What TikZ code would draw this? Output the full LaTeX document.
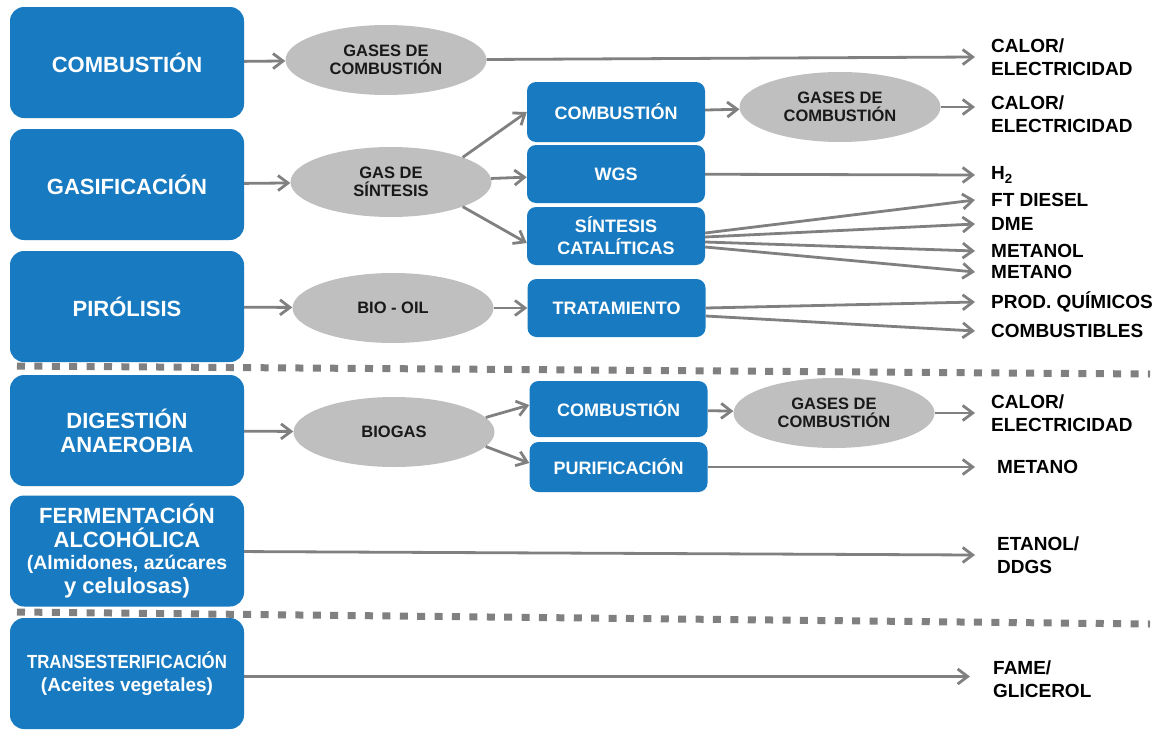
\documentclass[tikz,border=0pt]{standalone}
\usepackage{fontspec}
\setmainfont{Liberation Sans}
\usetikzlibrary{shapes.geometric,arrows.meta}
\definecolor{procblue}{RGB}{24,123,193}
\definecolor{gasgray}{RGB}{191,191,191}
\definecolor{flowgray}{RGB}{128,128,128}

\begin{document}
\begin{tikzpicture}[x=1pt,y=1pt,>={Straight Barb[length=10pt,width=15pt]},
  proc/.style={rectangle,rounded corners=14pt,fill=procblue,text=white,minimum width=234pt,minimum height=111pt,inner sep=2pt,align=center,font=\bfseries\fontsize{22}{24}\selectfont},
  stage/.style={rectangle,rounded corners=9pt,fill=procblue,text=white,minimum width=178pt,minimum height=58pt,inner sep=2pt,align=center,font=\bfseries\fontsize{18}{22}\selectfont},
  gas/.style={ellipse,fill=gasgray,text=black!90,minimum width=201pt,minimum height=70pt,inner sep=0pt,align=center,font=\bfseries\fontsize{16.5}{18.5}\selectfont},
  prod/.style={anchor=west,inner xsep=16pt,inner ysep=0pt,align=left,font=\bfseries\fontsize{19}{23}\selectfont},
  every edge/.style={draw=flowgray,line width=2.8pt},
  divider/.style={draw=flowgray,line width=7pt,dash pattern=on 8pt off 9.4pt}]
  \useasboundingbox (0pt,0pt) rectangle (1159pt,-731pt);
  \draw (127.0pt, -62.5pt)node[proc](comb1){COMBUSTIÓN};
  \draw (127.0pt, -184.5pt)node[proc](gasif){GASIFICACIÓN};
  \draw (127.0pt, -306.5pt)node[proc](piro){PIRÓLISIS};
  \draw (127.0pt, -430.5pt)node[proc](diges){DIGESTIÓN\\ANAEROBIA};
  \draw (127.0pt, -551.0pt)node[proc](ferm){FERMENTACIÓN\\ALCOHÓLICA\\[-2pt]\fontsize{19.5}{21.5}\selectfont(Almidones, azúcares\\y celulosas)};
  \draw (127.0pt, -673.5pt)node[proc,font=\bfseries\fontsize{19}{23}\selectfont](trans){\scalebox{0.885}[1]{TRANSESTERIFICACIÓN}\\(Aceites vegetales)};
  \draw (386.0pt, -60.0pt)node[gas](gc1){GASES DE\\COMBUSTIÓN};
  \draw (391.0pt, -182.0pt)node[gas](syn){GAS DE\\SÍNTESIS};
  \draw (393.0pt, -308.0pt)node[gas](oil){BIO - OIL};
  \draw (394.0pt, -432.0pt)node[gas](bio){BIOGAS};
  \draw (840.0pt, -107.0pt)node[gas](gc2){GASES DE\\COMBUSTIÓN};
  \draw (834.0pt, -413.0pt)node[gas](gc3){GASES DE\\COMBUSTIÓN};
  \draw (616.0pt, -112.0pt)node[stage,minimum height=60pt](comb2){COMBUSTIÓN};
  \draw (616.0pt, -174.0pt)node[stage](wgs){WGS};
  \draw (616.0pt, -236.0pt)node[stage](sint){SÍNTESIS\\CATALÍTICAS};
  \draw (616.5pt, -308.0pt)node[stage](trat){TRATAMIENTO};
  \draw (618.5pt, -409.0pt)node[stage,minimum height=56pt](comb3){COMBUSTIÓN};
  \draw (618.5pt, -467.0pt)node[stage,minimum height=50pt](puri){PURIFICACIÓN};
  \draw (975.0pt, -57.0pt)node[prod](out1){CALOR/\\ELECTRICIDAD};
  \draw (975.0pt, -114.0pt)node[prod](out2){CALOR/\\ELECTRICIDAD};
  \draw (975.0pt, -175.0pt)node[prod](hydro){H\textsubscript{2}};
  \draw (975.0pt, -200.0pt)node[prod](ftd){FT DIESEL};
  \draw (975.0pt, -224.0pt)node[prod](dme){DME};
  \draw (975.0pt, -251.0pt)node[prod](meoh){METANOL};
  \draw (975.0pt, -272.0pt)node[prod](metano1){METANO};
  \draw (975.0pt, -302.0pt)node[prod](quim){PROD. QUÍMICOS};
  \draw (975.0pt, -331.0pt)node[prod](fuel){COMBUSTIBLES};
  \draw (975.0pt, -413.0pt)node[prod](out3){CALOR/\\ELECTRICIDAD};
  \draw (975.0pt, -467.0pt)node[prod,inner xsep=22pt](metano2){METANO};
  \draw (975.0pt, -555.0pt)node[prod,inner xsep=22pt](etoh){ETANOL/\\DDGS};
  \draw (970.0pt, -679.0pt)node[prod,inner xsep=23pt](fame){FAME/\\GLICEROL};
  \path[->] (comb1) edge (gc1);
  \path[->] (gc1) edge (out1.west);
  \path[->] (gasif) edge (syn);
  \path[->] (syn.19) edge (comb2.west);
  \path[->] (syn) edge (wgs);
  \path[->] (syn.-19) edge ([yshift=-7pt]sint.west);
  \path[->] (comb2) edge (gc2);
  \path[->] (gc2) edge (gc2 -| out2.west);
  \path[->] (wgs) edge (hydro.west);
  \path[->] ([yshift=3pt]sint.east) edge (ftd.west);
  \path[->] ([yshift=-1pt]sint.east) edge (dme.west);
  \path[->] ([yshift=-6pt]sint.east) edge (meoh.west);
  \path[->] ([yshift=-11pt]sint.east) edge (metano1.west);
  \path[->] (piro) edge (oil);
  \path[->] (oil) edge (trat);
  \path[->] (trat.east) edge (quim.west);
  \path[->] ([yshift=-8pt]trat.east) edge (fuel.west);
  \path[->] (diges) edge (bio);
  \path[->] (bio.9) edge ([yshift=4pt]comb3.west);
  \path[->] (bio.-9) edge ([yshift=4pt]puri.west);
  \path[->] (comb3) edge (gc3);
  \path[->] (gc3) edge (gc3 -| out3.west);
  \path[->] (puri) edge (metano2.west);
  \path[->] (ferm) edge (etoh.west);
  \path[->] ([yshift=-3pt]trans.east) edge ([yshift=-3pt]trans.east -| fame.west);
  \draw[divider] (17pt,-366pt) -- (1150pt,-374pt);
  \draw[divider] (17pt,-612pt) -- (1150pt,-624pt);
\end{tikzpicture}
\end{document}
